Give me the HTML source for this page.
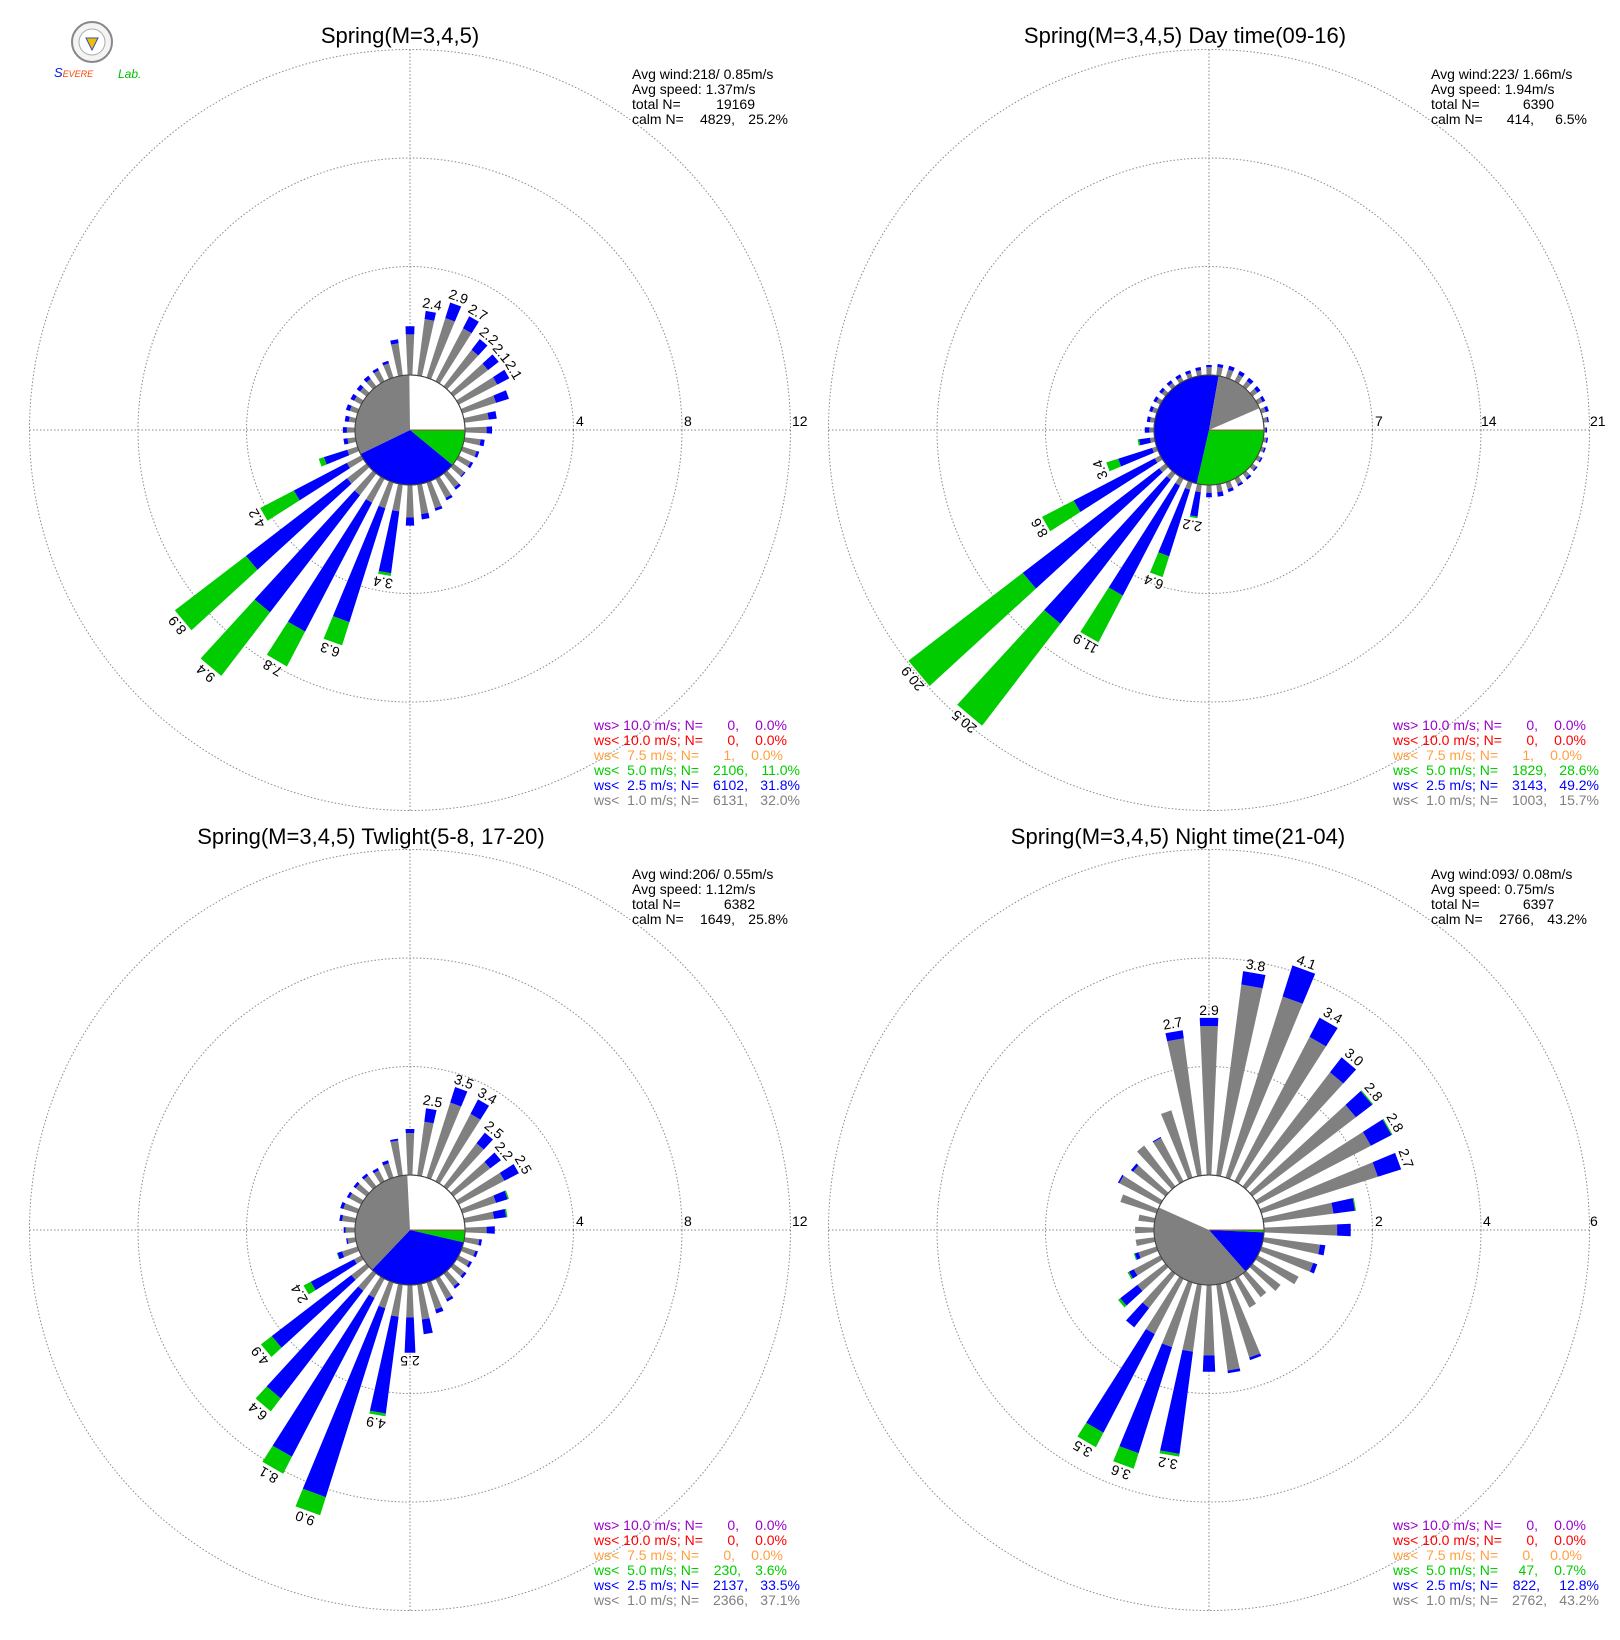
<!DOCTYPE html>
<html><head><meta charset="utf-8"><style>
html,body{margin:0;padding:0;background:#fff}
svg{display:block}
text{font-family:"Liberation Sans",sans-serif;white-space:pre}
.t{font-size:22px}
.s{font-size:14px}
.v{font-size:14px;text-anchor:middle}
.ax{font-size:14px}
</style></head><body>
<svg id="s" width="1620" height="1640" viewBox="0 0 1620 1640" xmlns="http://www.w3.org/2000/svg" xml:space="preserve">
<rect width="1620" height="1640" fill="#fff"/>
<g id="grid" fill="none" stroke="#8a8a8a" stroke-width="1" stroke-dasharray="1.5,2"></g>
<g id="bars"></g>
<!-- logo -->
<circle cx="92" cy="42" r="20" fill="#f4f4f4" stroke="#888" stroke-width="2"/>
<circle cx="92" cy="42" r="13" fill="#fff" stroke="#aaa" stroke-width="1"/>
<polygon points="86,38 98,38 92,50" fill="#f0c000" stroke="#3050c0" stroke-width="1"/>
<text x="54" y="77" style="font-size:13px;font-style:italic;fill:#0022dd">S<tspan style="fill:#ff4400;font-size:9px">EVERE</tspan></text>
<text x="118" y="78" style="font-size:12px;font-style:italic;fill:#00bb00">Lab.</text>
<!-- titles -->
<text class="t" x="400" y="43" text-anchor="middle">Spring(M=3,4,5)</text>
<text class="t" x="1185" y="43" text-anchor="middle">Spring(M=3,4,5) Day time(09-16)</text>
<text class="t" x="371" y="844" text-anchor="middle">Spring(M=3,4,5) Twlight(5-8, 17-20)</text>
<text class="t" x="1178" y="844" text-anchor="middle">Spring(M=3,4,5) Night time(21-04)</text>
<!-- axis labels -->
<text class="ax" x="576" y="426">4</text><text class="ax" x="684" y="426">8</text><text class="ax" x="792" y="426">12</text>
<text class="ax" x="1375" y="426">7</text><text class="ax" x="1481" y="426">14</text><text class="ax" x="1590" y="426">21</text>
<text class="ax" x="576" y="1226">4</text><text class="ax" x="684" y="1226">8</text><text class="ax" x="792" y="1226">12</text>
<text class="ax" x="1375" y="1226">2</text><text class="ax" x="1483" y="1226">4</text><text class="ax" x="1590" y="1226">6</text>
<!-- stats -->
<g class="s">
<text x="632" y="79">Avg wind:218/ 0.85m/s</text><text x="632" y="94">Avg speed: 1.37m/s</text>
<text x="632" y="109">total N=</text><text x="755" y="109" text-anchor="end">19169</text>
<text x="632" y="124">calm N=</text><text x="735" y="124" text-anchor="end">4829,</text><text x="788" y="124" text-anchor="end">25.2%</text>

<text x="1431" y="79">Avg wind:223/ 1.66m/s</text><text x="1431" y="94">Avg speed: 1.94m/s</text>
<text x="1431" y="109">total N=</text><text x="1554" y="109" text-anchor="end">6390</text>
<text x="1431" y="124">calm N=</text><text x="1534" y="124" text-anchor="end">414,</text><text x="1587" y="124" text-anchor="end">6.5%</text>

<text x="632" y="879">Avg wind:206/ 0.55m/s</text><text x="632" y="894">Avg speed: 1.12m/s</text>
<text x="632" y="909">total N=</text><text x="755" y="909" text-anchor="end">6382</text>
<text x="632" y="924">calm N=</text><text x="735" y="924" text-anchor="end">1649,</text><text x="788" y="924" text-anchor="end">25.8%</text>

<text x="1431" y="879">Avg wind:093/ 0.08m/s</text><text x="1431" y="894">Avg speed: 0.75m/s</text>
<text x="1431" y="909">total N=</text><text x="1554" y="909" text-anchor="end">6397</text>
<text x="1431" y="924">calm N=</text><text x="1534" y="924" text-anchor="end">2766,</text><text x="1587" y="924" text-anchor="end">43.2%</text>
</g>
<!-- legends -->
<g class="s">
<g>
<text x="594" y="730" fill="#9900cc">ws&gt; 10.0 m/s; N=</text><text x="739" y="730" fill="#9900cc" text-anchor="end">0,</text><text x="787" y="730" fill="#9900cc" text-anchor="end">0.0%</text>
<text x="594" y="745" fill="#ff0000">ws&lt; 10.0 m/s; N=</text><text x="739" y="745" fill="#ff0000" text-anchor="end">0,</text><text x="787" y="745" fill="#ff0000" text-anchor="end">0.0%</text>
<text x="594" y="760" fill="#ffa040">ws&lt;  7.5 m/s; N=</text><text x="735" y="760" fill="#ffa040" text-anchor="end">1,</text><text x="783" y="760" fill="#ffa040" text-anchor="end">0.0%</text>
<text x="594" y="775" fill="#00cc00">ws&lt;  5.0 m/s; N=</text><text x="748" y="775" fill="#00cc00" text-anchor="end">2106,</text><text x="800" y="775" fill="#00cc00" text-anchor="end">11.0%</text>
<text x="594" y="790" fill="#0000ff">ws&lt;  2.5 m/s; N=</text><text x="748" y="790" fill="#0000ff" text-anchor="end">6102,</text><text x="800" y="790" fill="#0000ff" text-anchor="end">31.8%</text>
<text x="594" y="805" fill="#808080">ws&lt;  1.0 m/s; N=</text><text x="748" y="805" fill="#808080" text-anchor="end">6131,</text><text x="800" y="805" fill="#808080" text-anchor="end">32.0%</text>
</g>
<g>
<text x="1393" y="730" fill="#9900cc">ws&gt; 10.0 m/s; N=</text><text x="1538" y="730" fill="#9900cc" text-anchor="end">0,</text><text x="1586" y="730" fill="#9900cc" text-anchor="end">0.0%</text>
<text x="1393" y="745" fill="#ff0000">ws&lt; 10.0 m/s; N=</text><text x="1538" y="745" fill="#ff0000" text-anchor="end">0,</text><text x="1586" y="745" fill="#ff0000" text-anchor="end">0.0%</text>
<text x="1393" y="760" fill="#ffa040">ws&lt;  7.5 m/s; N=</text><text x="1534" y="760" fill="#ffa040" text-anchor="end">1,</text><text x="1582" y="760" fill="#ffa040" text-anchor="end">0.0%</text>
<text x="1393" y="775" fill="#00cc00">ws&lt;  5.0 m/s; N=</text><text x="1547" y="775" fill="#00cc00" text-anchor="end">1829,</text><text x="1599" y="775" fill="#00cc00" text-anchor="end">28.6%</text>
<text x="1393" y="790" fill="#0000ff">ws&lt;  2.5 m/s; N=</text><text x="1547" y="790" fill="#0000ff" text-anchor="end">3143,</text><text x="1599" y="790" fill="#0000ff" text-anchor="end">49.2%</text>
<text x="1393" y="805" fill="#808080">ws&lt;  1.0 m/s; N=</text><text x="1547" y="805" fill="#808080" text-anchor="end">1003,</text><text x="1599" y="805" fill="#808080" text-anchor="end">15.7%</text>
</g>
<g>
<text x="594" y="1530" fill="#9900cc">ws&gt; 10.0 m/s; N=</text><text x="739" y="1530" fill="#9900cc" text-anchor="end">0,</text><text x="787" y="1530" fill="#9900cc" text-anchor="end">0.0%</text>
<text x="594" y="1545" fill="#ff0000">ws&lt; 10.0 m/s; N=</text><text x="739" y="1545" fill="#ff0000" text-anchor="end">0,</text><text x="787" y="1545" fill="#ff0000" text-anchor="end">0.0%</text>
<text x="594" y="1560" fill="#ffa040">ws&lt;  7.5 m/s; N=</text><text x="735" y="1560" fill="#ffa040" text-anchor="end">0,</text><text x="783" y="1560" fill="#ffa040" text-anchor="end">0.0%</text>
<text x="594" y="1575" fill="#00cc00">ws&lt;  5.0 m/s; N=</text><text x="741" y="1575" fill="#00cc00" text-anchor="end">230,</text><text x="787" y="1575" fill="#00cc00" text-anchor="end">3.6%</text>
<text x="594" y="1590" fill="#0000ff">ws&lt;  2.5 m/s; N=</text><text x="748" y="1590" fill="#0000ff" text-anchor="end">2137,</text><text x="800" y="1590" fill="#0000ff" text-anchor="end">33.5%</text>
<text x="594" y="1605" fill="#808080">ws&lt;  1.0 m/s; N=</text><text x="748" y="1605" fill="#808080" text-anchor="end">2366,</text><text x="800" y="1605" fill="#808080" text-anchor="end">37.1%</text>
</g>
<g>
<text x="1393" y="1530" fill="#9900cc">ws&gt; 10.0 m/s; N=</text><text x="1538" y="1530" fill="#9900cc" text-anchor="end">0,</text><text x="1586" y="1530" fill="#9900cc" text-anchor="end">0.0%</text>
<text x="1393" y="1545" fill="#ff0000">ws&lt; 10.0 m/s; N=</text><text x="1538" y="1545" fill="#ff0000" text-anchor="end">0,</text><text x="1586" y="1545" fill="#ff0000" text-anchor="end">0.0%</text>
<text x="1393" y="1560" fill="#ffa040">ws&lt;  7.5 m/s; N=</text><text x="1534" y="1560" fill="#ffa040" text-anchor="end">0,</text><text x="1582" y="1560" fill="#ffa040" text-anchor="end">0.0%</text>
<text x="1393" y="1575" fill="#00cc00">ws&lt;  5.0 m/s; N=</text><text x="1538" y="1575" fill="#00cc00" text-anchor="end">47,</text><text x="1586" y="1575" fill="#00cc00" text-anchor="end">0.7%</text>
<text x="1393" y="1590" fill="#0000ff">ws&lt;  2.5 m/s; N=</text><text x="1540" y="1590" fill="#0000ff" text-anchor="end">822,</text><text x="1599" y="1590" fill="#0000ff" text-anchor="end">12.8%</text>
<text x="1393" y="1605" fill="#808080">ws&lt;  1.0 m/s; N=</text><text x="1547" y="1605" fill="#808080" text-anchor="end">2762,</text><text x="1599" y="1605" fill="#808080" text-anchor="end">43.2%</text>
</g>
</g>
<!-- value labels -->
<g class="v">
<g transform="translate(410 430)">
<text transform="rotate(10) translate(0 -123)">2.4</text>
<text transform="rotate(20) translate(0 -137)">2.9</text>
<text transform="rotate(30) translate(0 -131)">2.7</text>
<text transform="rotate(40) translate(0 -118)">2.2</text>
<text transform="rotate(50) translate(0 -115)">2.1</text>
<text transform="rotate(60) translate(0 -115)">2.1</text>
<text transform="rotate(190) translate(0 -150)">3.4</text>
<text transform="rotate(200) translate(0 -229)">6.3</text>
<text transform="rotate(210) translate(0 -270)">7.8</text>
<text transform="rotate(220) translate(0 -313)">9.4</text>
<text transform="rotate(230) translate(0 -299)">8.9</text>
<text transform="rotate(240) translate(0 -172)">4.2</text>
</g>
<g transform="translate(1209 430)">
<text transform="rotate(190) translate(0 -92)">2.2</text>
<text transform="rotate(200) translate(0 -157)">6.4</text>
<text transform="rotate(210) translate(0 -242)">11.9</text>
<text transform="rotate(220) translate(0 -376)">20.5</text>
<text transform="rotate(230) translate(0 -382)">20.9</text>
<text transform="rotate(240) translate(0 -191)">8.6</text>
<text transform="rotate(250) translate(0 -111)">3.4</text>
</g>
<g transform="translate(410 1230)">
<text transform="rotate(10) translate(0 -126)">2.5</text>
<text transform="rotate(20) translate(0 -153)">3.5</text>
<text transform="rotate(30) translate(0 -150)">3.4</text>
<text transform="rotate(40) translate(0 -126)">2.5</text>
<text transform="rotate(50) translate(0 -118)">2.2</text>
<text transform="rotate(60) translate(0 -126)">2.5</text>
<text transform="rotate(180) translate(0 -126)">2.5</text>
<text transform="rotate(190) translate(0 -191)">4.9</text>
<text transform="rotate(200) translate(0 -302)">9.0</text>
<text transform="rotate(210) translate(0 -278)">8.1</text>
<text transform="rotate(220) translate(0 -232)">6.4</text>
<text transform="rotate(230) translate(0 -191)">4.9</text>
<text transform="rotate(240) translate(0 -123)">2.4</text>
</g>
<g transform="translate(1209 1230)">
<text transform="rotate(350) translate(0 -205)">2.7</text>
<text transform="rotate(0) translate(0 -215)">2.9</text>
<text transform="rotate(10) translate(0 -264)">3.8</text>
<text transform="rotate(20) translate(0 -280)">4.1</text>
<text transform="rotate(30) translate(0 -243)">3.4</text>
<text transform="rotate(40) translate(0 -221)">3.0</text>
<text transform="rotate(50) translate(0 -210)">2.8</text>
<text transform="rotate(60) translate(0 -210)">2.8</text>
<text transform="rotate(70) translate(0 -205)">2.7</text>
<text transform="rotate(190) translate(0 -232)">3.2</text>
<text transform="rotate(200) translate(0 -253)">3.6</text>
<text transform="rotate(210) translate(0 -248)">3.5</text>
</g>
</g>
</svg>
<script>
(function(){
var NS="http://www.w3.org/2000/svg";
var grid=document.getElementById("grid"),bars=document.getElementById("bars");
function el(p,n,a){var e=document.createElementNS(NS,n);for(var k in a)e.setAttribute(k,a[k]);p.appendChild(e);return e;}
var R0=55,SP=108.5,HW=2.5;
var P=[
{cx:410,cy:430,k:27.125,pie:[11.0,31.8,32.0],d:{0:[1.5,1.8],10:[2.1,2.4],20:[2.3,2.9],30:[2.2,2.7],40:[1.7,2.2],50:[1.6,2.1],60:[1.6,2.1],70:[1.3,1.8],80:[0.9,1.2],90:[0.8,1.0],100:[0.6,0.75],110:[0.55,0.65],120:[0.5,0.6],130:[0.5,0.55],140:[0.65,0.75],150:[0.8,0.9],160:[1.0,1.1],170:[1.1,1.3],180:[1.2,1.5],190:[1.0,3.3,3.4],200:[1.0,5.4,6.3],210:[1.0,6.35,7.8],220:[1.0,6.45,9.4],230:[0.9,5.6,8.9],240:[0.6,2.8,4.2],250:[0.4,1.3,1.5],260:[0.3,0.45],270:[0.3,0.45],280:[0.25,0.4],290:[0.3,0.45],300:[0.3,0.45],310:[0.3,0.45],320:[0.35,0.5],330:[0.45,0.55],340:[0.55,0.65],350:[1.2,1.35]}},
{cx:1209,cy:430,k:15.5,pie:[28.6,49.2,15.7],d:{0:[0.5,0.65],10:[0.55,0.75],20:[0.55,0.8],30:[0.5,0.75],40:[0.45,0.7],50:[0.4,0.65],60:[0.35,0.55],70:[0.3,0.5,0.52],80:[0.25,0.35],90:[0.1,0.2],100:[0.2,0.3],110:[0.2,0.3],120:[0.25,0.35],130:[0.3,0.4],140:[0.35,0.5],150:[0.4,0.55],160:[0.45,0.65],170:[0.5,0.8],180:[0.5,0.8],190:[0.5,2.1,2.2],200:[0.5,5.0,6.4],210:[0.5,8.5,11.9],220:[0.5,12.2,20.5],230:[0.5,11.6,20.9],240:[0.4,6.3,8.6],250:[0.3,2.6,3.4],260:[0.3,1.0,1.1],270:[0.3,0.6],280:[0.3,0.5],290:[0.3,0.5],300:[0.3,0.5],310:[0.3,0.5],320:[0.3,0.5],330:[0.3,0.5],340:[0.3,0.5],350:[0.35,0.55]}},
{cx:410,cy:1230,k:27.125,pie:[3.6,33.5,37.1],d:{0:[1.55,1.7],10:[2.0,2.5],20:[2.9,3.5],30:[2.8,3.4],40:[2.0,2.5],50:[1.7,2.2],60:[1.9,2.5],70:[1.3,1.75,1.8],80:[1.1,1.55,1.6],90:[0.8,1.1],100:[0.55,0.65],110:[0.5,0.6],120:[0.45,0.55],130:[0.5,0.6],140:[0.6,0.7],150:[0.85,0.95],160:[1.05,1.2],170:[1.3,1.85],180:[1.2,2.5],190:[1.2,4.8,4.9],200:[1.0,8.3,9.0],210:[0.8,7.4,8.1],220:[0.8,5.8,6.4],230:[0.7,4.4,4.9],240:[0.3,2.1,2.4],250:[0.6,0.78,0.8],260:[0.3,0.35],270:[0.35,0.42],280:[0.5,0.6],290:[0.55,0.67],300:[0.5,0.6],310:[0.5,0.6],320:[0.5,0.6],330:[0.45,0.55],340:[0.55,0.67],350:[1.3,1.37]}},
{cx:1209,cy:1230,k:54.25,pie:[0.7,12.8,43.2],d:{0:[2.75,2.9],10:[3.55,3.8],20:[3.5,4.1],30:[3.0,3.4],40:[2.65,3.0],50:[2.4,2.78,2.8],60:[2.35,2.78,2.8],70:[2.25,2.7],80:[1.3,1.7,1.72],90:[1.35,1.6],100:[1.05,1.15],110:[1.0,1.08],120:[0.85,0.85],130:[0.65,0.65],140:[0.55,0.55],150:[0.6,0.6],160:[1.45,1.5],170:[1.6,1.65],180:[1.3,1.6],190:[1.25,3.15,3.2],200:[1.25,3.3,3.6],210:[1.15,3.2,3.5],220:[0.8,1.25],230:[0.65,1.05,1.1],240:[0.55,0.65,0.68],250:[0.35,0.42,0.44],260:[0.35,0.35],270:[0.35,0.35],280:[0.3,0.3],290:[0.7,0.7],300:[0.85,0.88],310:[0.75,0.8],320:[0.95,0.95],330:[0.9,0.92],340:[1.3,1.3],350:[2.55,2.7]}}
];
function pt(cx,cy,r,d){var a=d*Math.PI/180;return [cx+r*Math.sin(a),cy-r*Math.cos(a)];}
var cols=["#808080","#0000ff","#00cc00"];
P.forEach(function(p){
  for(var i=1;i<=3;i++)el(grid,"circle",{cx:p.cx,cy:p.cy,r:R0+SP*i});
  el(grid,"line",{x1:p.cx-R0-3*SP,y1:p.cy,x2:p.cx+R0+3*SP,y2:p.cy});
  el(grid,"line",{x1:p.cx,y1:p.cy-R0-3*SP,x2:p.cx,y2:p.cy+R0+3*SP});
  for(var deg=0;deg<360;deg+=10){
    var v=p.d[deg];if(!v)continue;var prev=0;
    for(var j=0;j<v.length;j++){
      if(v[j]<=prev){continue;}
      var r1=R0+prev*p.k,r2=R0+v[j]*p.k;
      var a=pt(p.cx,p.cy,r1,deg-HW),b=pt(p.cx,p.cy,r2,deg-HW),c=pt(p.cx,p.cy,r2,deg+HW),d=pt(p.cx,p.cy,r1,deg+HW);
      el(bars,"polygon",{points:[a,b,c,d].map(function(q){return q[0].toFixed(1)+","+q[1].toFixed(1)}).join(" "),fill:cols[j]});
      prev=v[j];
    }
  }
  el(bars,"circle",{cx:p.cx,cy:p.cy,r:R0,fill:"#fff",stroke:"#444","stroke-width":1});
  var start=90,pc=["#00cc00","#0000ff","#808080"];
  for(var s=0;s<3;s++){
    var span=p.pie[s]*3.6;if(span<=0)continue;
    var A=pt(p.cx,p.cy,R0,start),B=pt(p.cx,p.cy,R0,start+span);
    el(bars,"path",{d:"M"+p.cx+","+p.cy+" L"+A[0]+","+A[1]+" A"+R0+","+R0+" 0 "+(span>180?1:0)+" 1 "+B[0]+","+B[1]+" Z",fill:pc[s]});
    start+=span;
  }
  el(bars,"circle",{cx:p.cx,cy:p.cy,r:R0,fill:"none",stroke:"#444","stroke-width":1});
  el(bars,"line",{x1:p.cx,y1:p.cy,x2:p.cx+R0,y2:p.cy,stroke:"#a0522d","stroke-width":1});
});
})();
</script>
</body></html>
